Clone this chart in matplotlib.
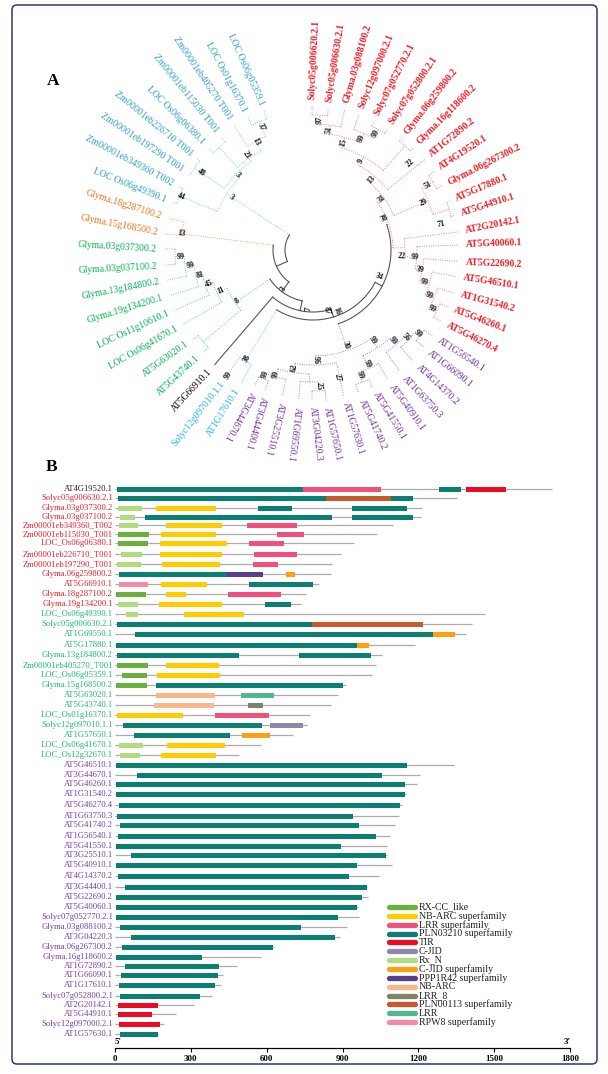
#!/usr/bin/env python

import numpy as np
import matplotlib
matplotlib.use("Agg")
import matplotlib.pyplot as plt
from matplotlib.patches import FancyBboxPatch

plt.rcParams['font.family'] = ['Liberation Serif', 'DejaVu Serif']

# ---- panel A: tips, clockwise from the top
tip_names = [
    "Solyc05g006620.2.1", "Solyc05g006630.2.1", "Glyma.03g088100.2", "Solyc12g097000.2.1",
    "Solyc07g052770.2.1", "Solyc07g052800.2.1", "Glyma.06g259800.2", "Glyma.16g118600.2",
    "AT1G72890.2", "AT4G19520.1", "Glyma.06g267300.2", "AT5G17880.1", "AT5G44910.1",
    "AT2G20142.1", "AT5G40060.1", "AT5G22690.2", "AT5G46510.1", "AT1G31540.2",
    "AT5G46260.1", "AT5G46270.4",
    "AT1G56540.1", "AT1G66090.1", "AT4G14370.2", "AT1G63750.3", "AT5G40910.1",
    "AT5G41550.1", "AT5G41740.2", "AT1G57630.1", "AT1G57650.1", "AT3G04220.3",
    "AT1G69550.1", "AT3G25510.1", "AT3G44400.1", "AT3G44670.1",
    "AT1G17610.1", "Solyc12g097010.1.1", "AT5G66910.1",
    "AT5G43740.1", "AT5G63020.1", "LOC Os06g41670.1", "LOC Os11g10610.1",
    "Glyma.19g134200.1", "Glyma.13g184800.2", "Glyma.03g037100.2", "Glyma.03g037300.2",
    "Glyma.15g168500.2", "Glyma.18g287100.2",
    "LOC Os06g49390.1", "Zm00001eb349360 T002", "Zm00001eb197290 T001", "Zm00001eb226710 T001",
    "LOC Os06g06380.1", "Zm00001eb115030 T001", "Zm00001eb405270 T001",
    "LOC Os01g16370.1", "LOC Os06g05359.1",
]
tip_groups = (['red'] * 20 + ['purple'] * 14 + ['sky'] * 2 + ['black'] + ['green'] * 8
              + ['orange'] * 2 + ['blue'] * 9)
tip_angle = [
    90.4, 83.8, 77.3, 71.3, 64.6, 58.4, 51.5, 45.5, 39.0, 32.8, 26.4, 19.6, 13.7, 7.1, 1.9,
    -4.5, -10.5, -17.0, -23.0, -29.2, -35.8, -41.3, -48.0, -54.4, -60.0, -66.6, -72.3, -78.2,
    -85.0, -90.4, -95.5, -101.8, -108.8, -113.1, -118.3, -124.3, -130.6, -137.0, -143.3,
    -150.2, -156.5, -162.3, -168.3, -174.1, -180.4, -186.3, -192.3, -198.8, -205.2, -211.4,
    -218.1, -224.2, -230.9, -237.6, -243.8, -250.6,
]
tip_radius = [
    150, 149, 151, 150, 149, 149, 149, 150, 151, 151, 151, 152, 152, 154, 153, 153, 153, 154,
    153, 154, 154, 154, 156, 156, 156, 156, 157, 156, 158, 157, 158, 156, 155, 155, 158, 160,
    158, 157, 156, 157, 158, 157, 157, 157, 156, 156, 155, 155, 155, 153, 154, 153, 152, 155,
    154, 154,
]
tip_tilt = [
    87, 81, 74, 68, 63, 56, 52, 45, 39, 33, 27, 23, 18, 11, 2, -2, -9, -15, -21, -27, -33, -38,
    -43, -47, -54, -58, -65, -73, -77, -83, -97, -104, -106, -118, 58, 52, 47, 43, 36, 30, 25,
    17, 11, 3, -3.5, -11, -17.5, -22, -28, -34, -39, -45, -51, -56, -62, -66,
]
label_colors = {'red': '#ee1c25', 'purple': '#7030a0', 'sky': '#22b4ec', 'black': 'black',
                'green': '#00b050', 'orange': '#e8701a', 'blue': '#2e9fc4'}
branch_colors = {'red': '#f0808a', 'purple': '#a67fd0', 'sky': '#55cfee', 'black': '#555555',
                 'green': '#5fd0a0', 'orange': '#f0a060', 'blue': '#7fd0d4'}
GREY = '#555555'


def node(r, sup, kids, at=None, color=None, sup_dr=-5, sup_at=None):
    return dict(r=r, sup=sup, kids=kids, at=at, color=color, sup_dr=sup_dr, sup_at=sup_at)


# red clade
n97 = node(135, '97', [0, 1])
n51 = node(126, '51', [n97, 2])
n45 = node(137, '99', [4, 5])
n345 = node(127, '99', [3, n45])
n15 = node(117, '15', [n51, n345])
n67 = node(139, '22', [6, 7], sup_dr=-8, sup_at=42)
n9 = node(106, '9', [n15, n67])
n13 = node(96, '13', [n9, 8])
n910 = node(138, '51', [9, 10], sup_dr=-6)
n1112 = node(142, '71', [11, 12], sup_dr=-11, sup_at=11.4)
n29 = node(125, '29', [n910, n1112])
n31 = node(88, '31', [n13, n29], sup_dr=-3)
r7 = node(138, '99', [18, 19])
r6 = node(130, '99', [17, r7])
r5 = node(121, '99', [16, r6])
r4 = node(111, '39', [15, r5], sup_dr=-2)
r3 = node(104, '99', [14, r4], sup_dr=-2)
r2 = node(92, '22', [13, r3], sup_dr=-3, sup_at=-4)
r0 = node(80, '38', [n31, r2], at=19, sup_dr=-2, sup_at=24)
# purple clade
n25 = node(141, '25', [28, 29])
q4 = node(132, '27', [n25, 30], sup_dr=-2, sup_at=-79)
q1 = node(138, '99', [33, 32])
q2 = node(132, '99', [q1, 31], sup_dr=-2)
q3 = node(124, '62', [q2, q4])
p1 = node(115, '96', [q3, 27])
n2526 = node(141, '99', [25, 26], sup_dr=-7)
pa = node(131, '99', [n2526, 24], sup_dr=-5)
pd = node(137, '99', [20, 21], sup_dr=-2)
pc = node(131, '56', [22, pd], sup_dr=-3)
pb = node(126, '99', [23, pc], sup_dr=-5)
p2 = node(117, '99', [pa, pb], sup_dr=-9)
p0 = node(106, '30', [p1, p2], at=-71)
# sky, green, orange, blue
lb = node(130, '38', [34, 35], sup_dr=-3)
n37 = node(143, '99', [37, 38], sup_dr=8, sup_at=-124)
g_a = node(138, '99', [43, 44], sup_dr=-5)
g_b = node(129, '99', [g_a, 42], sup_dr=-5)
g_c = node(120, '81', [g_b, 41], sup_dr=-4)
g_d = node(113, '45', [g_c, 40], sup_dr=-4)
g_e = node(105, '11', [g_d, 39], sup_dr=-4)
g_f = node(94, '8', [g_e, n37], at=-146, sup_dr=-3)
orange = node(132, '13', [45, 46], at=-187, sup_dr=0)
n44 = node(144, '44', [47, 48], sup_dr=-2)
n48 = node(144, '48', [49, 50], sup_dr=-8)
n52 = node(139, '', [51, 52])
z5 = node(139, '37', [54, 55], sup_dr=-6)
z4 = node(123, '13', [53, z5], sup_dr=-1)
z3 = node(112, '21', [n52, z4], sup_dr=4)
z2 = node(108, '3', [n48, z3], sup_dr=-2)
z0 = node(103, '3', [n44, z2], at=-213, sup_dr=-6)
# the grey backbone
e = node(28, '', [z0], at=-156, color=GREY)
d = node(40, '3', [orange, e], at=-127, color=GREY, sup_dr=9)
b = node(52, '7', [g_f, d], at=-102, color=GREY, sup_dr=7, sup_at=-94)
c = node(62, '87', [36, b], at=-73, color=GREY, sup_dr=0, sup_at=-77)
x = node(78, '34', [r0, p0], at=-27.5, color=GREY, sup_dr=-7, sup_at=-22)
root = node(70, '16', [lb, c, x], at=-69, color=GREY, sup_dr=-5)

# ---- panel B: gene list, protein length and domains (start, end in aa)
RX = 'RX-CC_like'
NBS = 'NB-ARC superfamily'
LRS = 'LRR superfamily'
PLN = 'PLN03210 superfamily'
TIR = 'TIR'
CJ = 'C-JID'
RXN = 'Rx_N'
CJS = 'C-JID superfamily'
PPP = 'PPP1R42 superfamily'
NB = 'NB-ARC'
L8 = 'LRR_8'
P13 = 'PLN00113 superfamily'
LR = 'LRR'
RPW = 'RPW8 superfamily'
domain_names = [RX, NBS, LRS, PLN, TIR, CJ, RXN, CJS, PPP, NB, L8, P13, LR, RPW]
domain_colors = ['#6ab03c', '#ffcc00', '#f0507a', '#0a7f72', '#ee0a25', '#9088aa', '#b0dc80',
                 '#fca010', '#5a3f88', '#fdb688', '#7d8468', '#c85a30', '#50b88a', '#f08ca8']

gene_names = [
    "AT4G19520.1", "Solyc05g006630.2.1", "Glyma.03g037300.2", "Glyma.03g037100.2",
    "Zm00001eb349360_T002", "Zm00001eb115030_T001", "LOC_Os06g06380.1", "Zm00001eb226710_T001",
    "Zm00001eb197290_T001", "Glyma.06g259800.2", "AT5G66910.1", "Glyma.18g287100.2",
    "Glyma.19g134200.1", "LOC_Os06g49390.1", "Solyc05g006630.2.1", "AT1G69550.1", "AT5G17880.1",
    "Glyma.13g184800.2", "Zm00001eb405270_T001", "LOC_Os06g05359.1", "Glyma.15g168500.2",
    "AT5G63020.1", "AT5G43740.1", "LOC_Os01g16370.1", "Solyc12g097010.1.1", "AT1G57650.1",
    "LOC_Os06g41670.1", "LOC_Os12g32670.1", "AT5G46510.1", "AT3G44670.1", "AT5G46260.1",
    "AT1G31540.2", "AT5G46270.4", "AT1G63750.3", "AT5G41740.2", "AT1G56540.1", "AT5G41550.1",
    "AT3G25510.1", "AT5G40910.1", "AT4G14370.2", "AT3G44400.1", "AT5G22690.2", "AT5G40060.1",
    "Solyc07g052770.2.1", "Glyma.03g088100.2", "AT3G04220.3", "Glyma.06g267300.2",
    "Glyma.16g118600.2", "AT1G72890.2", "AT1G66090.1", "AT1G17610.1", "Solyc07g052800.2.1",
    "AT2G20142.1", "AT5G44910.1", "Solyc12g097000.2.1", "AT1G57630.1",
]
gene_groups = ['black'] + ['red'] * 12 + ['green2'] * 15 + ['purple2'] * 28
gene_label_colors = {'black': '#222222', 'red': '#e8202a', 'green2': '#1fb877', 'purple2': '#7a3fa8'}
gene_lengths = [
    1729, 1353, 1214, 1210, 1100, 1037, 945, 894, 858, 854, 807, 756, 736, 1464, 1412, 1389,
    1187, 1056, 1032, 1017, 914, 882, 854, 771, 760, 704, 578, 491, 1341, 1207, 1195, 1151,
    1135, 1123, 1108, 1088, 1076, 1076, 1096, 1044, 997, 1001, 960, 965, 918, 890, 629, 578,
    483, 427, 419, 384, 313, 241, 194, 170,
]
gene_domains = [
    [(PLN, 8, 744), (LRS, 744, 1052), (PLN, 1282, 1369), (TIR, 1389, 1547)],
    [(PLN, 12, 835), (P13, 835, 1092), (PLN, 1092, 1179)],
    [(RXN, 12, 107), (NBS, 162, 400), (PLN, 566, 700), (PLN, 937, 1155)],
    [(RXN, 20, 79), (PLN, 119, 858), (PLN, 937, 1179)],
    [(RXN, 16, 91), (NBS, 202, 423), (LRS, 522, 720)],
    [(RX, 12, 134), (NBS, 182, 400), (LRS, 641, 748)],
    [(RX, 12, 130), (NBS, 178, 443), (LRS, 530, 669)],
    [(RXN, 24, 107), (NBS, 178, 423), (LRS, 550, 720)],
    [(RXN, 8, 103), (NBS, 186, 415), (LRS, 546, 645)],
    [(PLN, 16, 443), (PPP, 443, 585), (CJS, 676, 712)],
    [(RPW, 16, 130), (NBS, 182, 364), (PLN, 530, 783)],
    [(RX, 4, 123), (NBS, 202, 281), (LRS, 447, 657)],
    [(RXN, 12, 91), (NBS, 174, 423), (PLN, 593, 696)],
    [(RXN, 44, 91), (NBS, 273, 510)],
    [(PLN, 8, 779), (P13, 779, 1218)],
    [(PLN, 79, 1258), (CJS, 1258, 1345)],
    [(PLN, 4, 957), (CJS, 957, 1005)],
    [(PLN, 8, 491), (PLN, 728, 1013)],
    [(RX, 8, 130), (NBS, 202, 411)],
    [(RX, 28, 127), (NBS, 166, 415)],
    [(RX, 4, 127), (PLN, 162, 902)],
    [(NB, 162, 396), (LR, 498, 629)],
    [(NB, 154, 392), (L8, 526, 585)],
    [(NBS, 8, 269), (LRS, 396, 609)],
    [(PLN, 32, 582), (CJ, 613, 744)],
    [(PLN, 75, 455), (CJS, 502, 613)],
    [(RXN, 16, 111), (NBS, 206, 435)],
    [(RXN, 20, 99), (NBS, 182, 400)],
    [(PLN, 4, 1155)], [(PLN, 87, 1056)], [(PLN, 4, 1147)], [(PLN, 4, 1147)], [(PLN, 16, 1127)],
    [(PLN, 8, 941)], [(PLN, 20, 965)], [(PLN, 12, 1032)], [(PLN, 4, 894)], [(PLN, 63, 1072)],
    [(PLN, 4, 957)], [(PLN, 12, 926)], [(PLN, 40, 997)], [(PLN, 4, 977)], [(PLN, 4, 957)],
    [(PLN, 4, 882)], [(PLN, 20, 736)], [(PLN, 63, 870)], [(PLN, 28, 625)], [(PLN, 4, 344)],
    [(PLN, 40, 411)], [(PLN, 24, 407)], [(PLN, 16, 396)], [(PLN, 20, 336)],
    [(TIR, 12, 170)], [(TIR, 12, 146)], [(TIR, 16, 178)], [(PLN, 20, 170)],
]
axis_ticks = [0, 300, 600, 900, 1200, 1500, 1800]

# layout, in pixels of the 608x1074 picture
CX, CY = 313, 250
row_y = [489, 498, 508, 517, 525, 534, 543, 554, 564, 574, 584, 594, 604, 614, 624, 634, 645,
         655, 665, 675, 685, 695, 705, 715, 725, 735, 745, 755, 765, 775, 784, 794, 805, 816,
         825, 836, 846, 855, 865, 876, 887, 897, 907, 917, 927, 937, 947, 957, 966, 975, 985,
         996, 1005, 1014, 1024, 1034]


def polar(theta, r):
    t = np.radians(theta)
    return CX + r * np.cos(t), CY - r * np.sin(t)


def first_tip(n):
    while not isinstance(n, int):
        n = n['kids'][0]
    return n


def branch_color(n):
    if not isinstance(n, int) and n['color']:
        return n['color']
    return branch_colors[tip_groups[first_tip(n)]]


def line_kw(color):
    if color == GREY:
        return dict(color=color, lw=0.8, ls='-')
    return dict(color=color, lw=0.7, ls=(0, (1, 1.4)))


def draw_tree(ax, n):
    if isinstance(n, int):
        return tip_angle[n], tip_radius[n] - 7
    angles = []
    for kid in n['kids']:
        a, r = draw_tree(ax, kid)
        angles.append(a)
        xs, ys = polar(a, np.array([n['r'], r]))
        ax.plot(xs, ys, **line_kw(branch_color(kid)))
    at = n['at'] if n['at'] is not None else (angles[0] + angles[-1]) / 2
    arc = np.linspace(min(angles + [at]), max(angles + [at]), 60)
    xs, ys = polar(arc, n['r'])
    ax.plot(xs, ys, **line_kw(branch_color(n)))
    if n['sup']:
        sa = n['sup_at'] if n['sup_at'] is not None else at
        sx, sy = polar(sa, n['r'] + n['sup_dr'])
        ax.text(sx, sy, n['sup'], fontsize=5.8, fontweight='bold', ha='center', va='center',
                rotation=(sa + 90) % 180 - 90, rotation_mode='anchor', color='#111111')
    return at, n['r']


fig = plt.figure(figsize=(6.08, 10.74), dpi=100)
ax = fig.add_axes([0, 0, 1, 1])
ax.set_xlim(0, 608)
ax.set_ylim(1074, 0)
ax.axis('off')

frame = FancyBboxPatch((12, 5), 585, 1059, boxstyle='round,pad=0,rounding_size=5',
                       fc='none', ec='#2a3a6a', lw=1.1)
ax.add_patch(frame)

draw_tree(ax, root)
for i, name in enumerate(tip_names):
    tx, ty = polar(tip_angle[i], tip_radius[i])
    ax.text(tx, ty, name, fontsize=6.9, fontweight='bold' if tip_groups[i] == 'red' else 'normal',
            color=label_colors[tip_groups[i]], rotation=tip_tilt[i], rotation_mode='anchor',
            ha='left' if i <= 33 else 'right', va='center')

ax.text(53, 81, 'A', fontsize=12.5, fontweight='bold', ha='center', va='center')
ax.text(52, 467, 'B', fontsize=12.5, fontweight='bold', ha='center', va='center')

# panel B
TOP, BOTTOM = 480, 1048
gax = fig.add_axes([115 / 608, 1 - BOTTOM / 1074, 455 / 608, (BOTTOM - TOP) / 1074])
gax.set_xlim(0, 1800)
gax.set_ylim(BOTTOM, TOP)
gax.patch.set_alpha(0)
for side in ['top', 'left', 'right']:
    gax.spines[side].set_visible(False)
gax.spines['bottom'].set_linewidth(0.9)
gax.set_yticks([])
gax.set_xticks(axis_ticks)
gax.tick_params(axis='x', length=3, width=0.8, pad=2)
for lab in gax.get_xticklabels():
    lab.set_fontsize(6.5)
    lab.set_fontweight('bold')

color_of = dict(zip(domain_names, domain_colors))
for i, name in enumerate(gene_names):
    y = row_y[i]
    gax.plot([0, gene_lengths[i]], [y, y], color='#ababab', lw=0.9, solid_capstyle='butt', zorder=1)
    for dom, start, end in gene_domains[i]:
        gax.barh(y, end - start, left=start, height=5, color=color_of[dom], lw=0, zorder=2)
    gax.text(-8, y, name, fontsize=6.2, ha='right', va='center',
             color=gene_label_colors[gene_groups[i]])
gax.text(12, 1042, "5'", fontsize=6.5, fontweight='bold', ha='center', va='center')
gax.text(1790, 1042, "3'", fontsize=6.5, fontweight='bold', ha='center', va='center')

# legend
for i, name in enumerate(domain_names):
    ly = 907 + 8.85 * i
    ax.plot([389, 415], [ly, ly], color=domain_colors[i], lw=3.8, solid_capstyle='round')
    ax.text(419, ly, name, fontsize=7.1, ha='left', va='center', color='#222222')

plt.savefig('out.png', dpi=100)
